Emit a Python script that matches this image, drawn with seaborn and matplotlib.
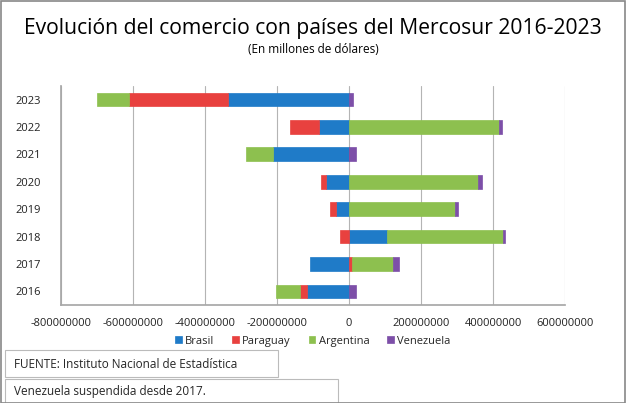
import matplotlib
matplotlib.use("Agg")
from matplotlib import pyplot as plt
from matplotlib.patches import Rectangle
import matplotlib.ticker as mtick
import numpy as np
import seaborn as sns

# Data (in dollars)
years = ["2016", "2017", "2018", "2019", "2020", "2021", "2022", "2023"]
brasil = [-117e6, -108e6, 105e6, -37e6, -65e6, -210e6, -84e6, -335e6]
paraguay = [-18e6, 7e6, -24e6, -17e6, -13e6, 0, -79e6, -275e6]
argentina = [-69e6, 114e6, 322e6, 293e6, 358e6, -76e6, 416e6, -88e6]
venezuela = [20e6, 17e6, 7e6, 8e6, 12e6, 20e6, 8e6, 10e6]
series_names = ["Brasil", "Paraguay", "Argentina", "Venezuela"]
x_ticks = [-800e6, -600e6, -400e6, -200e6, 0, 200e6, 400e6, 600e6]

colors = ["#1f7bc8", "#e8413f", "#8dc04f", "#7d4fa8"]

sns.set_theme(style="white")
plt.rcParams["font.family"] = ["Open Sans", "DejaVu Sans"]

fig = plt.figure(figsize=(6.26, 4.03), dpi=100)
ax = fig.add_axes([0.097, 0.243, 0.806, 0.544])

y = np.arange(len(years))
pos_base = np.zeros(len(years))
neg_base = np.zeros(len(years))
for name, vals, col in zip(series_names, [brasil, paraguay, argentina, venezuela], colors):
    vals = np.array(vals, dtype=float)
    left = np.where(vals >= 0, pos_base, neg_base)
    ax.barh(y, vals, left=left, height=0.5, color=col, label=name,
            edgecolor=col, linewidth=0.5, zorder=3)
    pos_base = pos_base + np.where(vals >= 0, vals, 0)
    neg_base = neg_base + np.where(vals < 0, vals, 0)

ax.set_xlim(-800e6, 600e6)
ax.set_ylim(-0.5, len(years) - 0.5)
ax.set_xticks(x_ticks)
ax.xaxis.set_major_formatter(mtick.FuncFormatter(lambda v, p: f"{v:.0f}"))
ax.set_yticks(y)
ax.set_yticklabels(years)
ax.tick_params(axis="both", labelsize=8, length=0, colors="#222222")
ax.tick_params(axis="y", pad=14)
ax.tick_params(axis="x", pad=9)
ax.grid(axis="x", color="#b4b4b4", linewidth=0.8, zorder=0)
for s in ["top", "right"]:
    ax.spines[s].set_visible(False)
ax.spines["left"].set_color("#a8a8a8")
ax.spines["bottom"].set_color("#a8a8a8")

fig.text(0.5, 0.93, "Evolución del comercio con países del Mercosur 2016-2023",
         ha="center", va="center", fontsize=15.2, color="black")
fig.text(0.5, 0.878, "(En millones de dólares)", ha="center", va="center",
         fontsize=8.5, color="black")

ax.legend(loc="center", bbox_to_anchor=(0.5, -0.165), ncol=4, frameon=False,
          fontsize=8, handlelength=0.6, handleheight=0.6, columnspacing=1.6,
          handletextpad=0.3)

# footer boxes
fig.patches.append(Rectangle((5 / 626, 1 - 377 / 403), 273 / 626, 27 / 403,
                             transform=fig.transFigure, fill=False,
                             edgecolor="#bbbbbb", linewidth=0.8))
fig.patches.append(Rectangle((5 / 626, 0), 333 / 626, 24 / 403,
                             transform=fig.transFigure, fill=False,
                             edgecolor="#bbbbbb", linewidth=0.8))
fig.text(14 / 626, 1 - 364 / 403, "FUENTE: Instituto Nacional de Estadística",
         ha="left", va="center", fontsize=8.5)
fig.text(14 / 626, 1 - 392 / 403, "Venezuela suspendida desde 2017.",
         ha="left", va="center", fontsize=8.5)

# outer border
fig.patches.append(Rectangle((0.001, 0.001), 0.997, 0.997, transform=fig.transFigure,
                             fill=False, edgecolor="#888888", linewidth=1.2))

fig.savefig("out.png", dpi=100)
